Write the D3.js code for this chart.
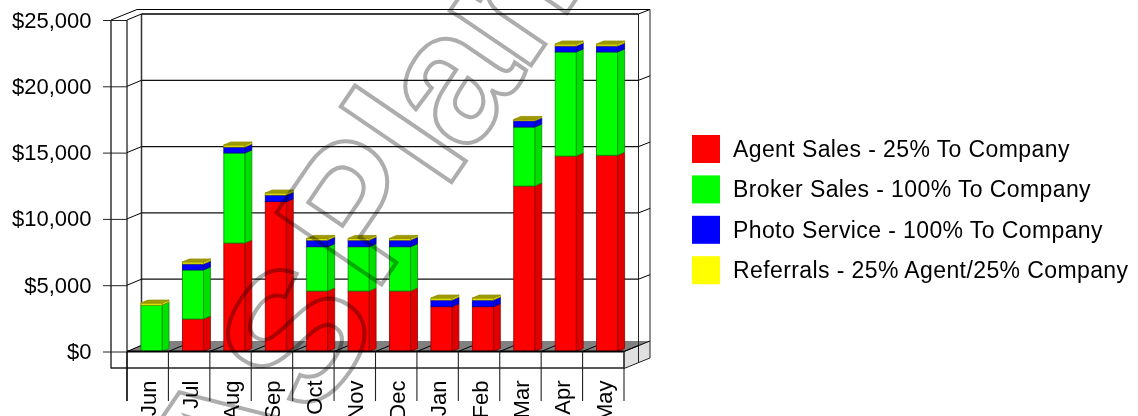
<!DOCTYPE html>
<html><head><meta charset="utf-8">
<script src="https://cdnjs.cloudflare.com/ajax/libs/d3/7.8.5/d3.min.js"></script>
<style>html,body{margin:0;padding:0;background:#fff;overflow:hidden}svg{display:block}
text{font-family:"Liberation Sans",Arial,sans-serif}</style></head><body>
<script>
const categories=["Jun","Jul","Aug","Sep","Oct","Nov","Dec","Jan","Feb","Mar","Apr","May"];
const agentSales=[0,2450,8180,11300,4560,4560,4560,3380,3380,12480,14740,14800];
const brokerSales=[3500,3700,6790,0,3340,3340,3340,0,0,4450,7850,7790];
const photoService=[0,450,450,500,500,500,500,500,500,470,450,450];
const referrals=[150,150,150,150,130,130,130,150,150,100,150,150];
const seriesNames=["Agent Sales - 25% To Company","Broker Sales - 100% To Company","Photo Service - 100% To Company","Referrals - 25% Agent/25% Company"];
const seriesValues=[agentSales,brokerSales,photoService,referrals];
const yTicks=[0,5000,10000,15000,20000,25000];
const watermark="ASPlan";

const front=["#ff0000","#00ff00","#0000ff","#ffff00"];
const side=["#e00000","#00e000","#0000e0","#e0e000"];
const edge=["#900000","#009000","#000090","#909000"];
const topFill=["#a00000","#00a000","#0000a0","#a09a00"];

const W=1138,H=416;
const svg=d3.select("body").append("svg").attr("width",W).attr("height",H);
const y=d3.scaleLinear().domain([0,25000]).range([351.5,20]);
const x=d3.scaleBand().domain(categories).range([127,624]);
const dx=14.5,dy=-6,ox=26,oy=-10.5,bx=7,by=-3,barOff=14,barW=21;
const line=(g,x1,y1,x2,y2,c="#000",w=1)=>g.append("line").attr("x1",x1).attr("y1",y1).attr("x2",x2).attr("y2",y2).attr("stroke",c).attr("stroke-width",w);
const poly=(g,p,f,s,w=1)=>g.append("polygon").attr("points",p.join(" ")).attr("fill",f).attr("stroke",s||"none").attr("stroke-width",w);

const g=svg.append("g");
const L=127,R=624,T=y(25000),B=y(0);
// floor + right side
poly(g,[[L,B],[L+ox-4,B+oy],[R+ox,B+oy],[R,B]],"#808080");
poly(g,[[R,B],[R+ox,B+oy],[R+ox,B+oy+17],[R,B+17]],"#e0e0e0");
x.domain().forEach(c=>{const a=x(c);line(g,a,B,a+dx,B+dy,"#000",1);});
line(g,R,B,R+dx,B+dy,"#000",1);
// walls
line(g,L+dx,T+dy,L+dx,B+dy,"#333",1.5);
line(g,R+dx,T+dy,R+dx,B+dy+17,"#222",1);
line(g,L-16,T,L-16,B+17,"#000",1.2);
line(g,L,T,L,B,"#333",1.4);
line(g,R+ox,T+oy,R+ox,B+oy+17,"#222",1);
line(g,L-16,T,L+10,T+oy,"#000",1);
line(g,L+10,T+oy,R+ox,T+oy,"#000",1.2);
line(g,L+dx,T+dy,R+dx,T+dy,"#000",1.4);
line(g,L,T,L+dx,T+dy,"#000",1);
line(g,R+dx,T+dy,R+ox,T+oy,"#000",1);
yTicks.forEach(t=>{
  const v=y(t);
  if(t>0&&t<25000){line(g,L,v,L+dx,v+dy);line(g,L+dx,v+dy,R+dx,v+dy,"#111",1.2);line(g,R+dx,v+dy,R+ox,v+oy);}
});
// y axis
const ya=svg.append("g").attr("transform",`translate(${L},0)`)
  .call(d3.axisLeft(y).tickValues(yTicks).tickSize(24).tickPadding(11.5).tickFormat(d=>"$"+d3.format(",")(d)));
ya.select(".domain").remove();
ya.selectAll("line").attr("stroke","#222").attr("stroke-width",1);
ya.selectAll("text").attr("font-size",22).attr("fill","#000").attr("font-family","Liberation Sans");
// bars
categories.forEach((c,i)=>{
  const b=svg.append("g"),x0=x(c)+barOff;
  let acc=0,last=-1;
  seriesValues.forEach((vals,s)=>{
    const v=vals[i];if(!v)return;
    const y1=y(acc),y2=y(acc+v);acc+=v;last=s;
    poly(b,[[x0+barW,y1],[x0+barW+bx,y1+by],[x0+barW+bx,y2+by],[x0+barW,y2]],side[s],edge[s],0.8);
    b.append("rect").attr("x",x0).attr("y",y2).attr("width",barW).attr("height",y1-y2).attr("fill",front[s]).attr("stroke",edge[s]).attr("stroke-width",0.8);
  });
  if(last>=0){const yt=y(acc);poly(b,[[x0,yt],[x0+bx,yt+by],[x0+barW+bx,yt+by],[x0+barW,yt]],topFill[last],edge[last],0.8);}
});
// front baseline, box
line(svg,L,B,R,B,"#000",2);
line(svg,L-16,B+16.5,R,B+16.5,"#222",1.6);
line(svg,R,B,R,B+17,"#111",1);
line(svg,R,B,R+ox,B+oy,"#000",1);
line(svg,R,B+17,R+ox,B+oy+17,"#222",1);
line(svg,R+dx,B+dy,R+dx,B+dy+17,"#222",1);
x.domain().concat(["_"]).forEach((c,i)=>{
  const a=c==="_"?R:x(c);
  line(svg,a,B,a,401,i===0?"#000":"#222",i===0?1.6:1.1);
});
// x labels
const xa=svg.append("g").attr("transform",`translate(0,${B})`).call(d3.axisBottom(x).tickSize(0));
xa.select(".domain").remove();
xa.selectAll("text").attr("font-size",22).attr("fill","#000").attr("font-family","Liberation Sans")
  .attr("text-anchor","end").attr("transform","translate(8.5,29) rotate(-90)").attr("x",0).attr("y",0).attr("dy",0);
// legend
const leg=svg.append("g");
seriesNames.forEach((n,i)=>{
  const yy=135+i*40.4;
  leg.append("rect").attr("x",692).attr("y",yy).attr("width",28).attr("height",28).attr("fill",front[i]);
  leg.append("text").attr("x",733).attr("y",yy+22).attr("font-size",23).attr("letter-spacing",0.4).attr("fill","#000").text(n);
});
// watermark
svg.append("text").attr("transform","translate(223,517) rotate(-55.7)")
  .attr("font-size",185).attr("font-weight","bold").attr("fill","none").attr("stroke","#adadad").attr("stroke-width",4)
  .attr("dx","-4 0 16 0 -8 -5").attr("dy","21 0 -21 0 0 0")
  .attr("stroke-linejoin","miter").style("mix-blend-mode","multiply").text(watermark);
</script></body></html>
